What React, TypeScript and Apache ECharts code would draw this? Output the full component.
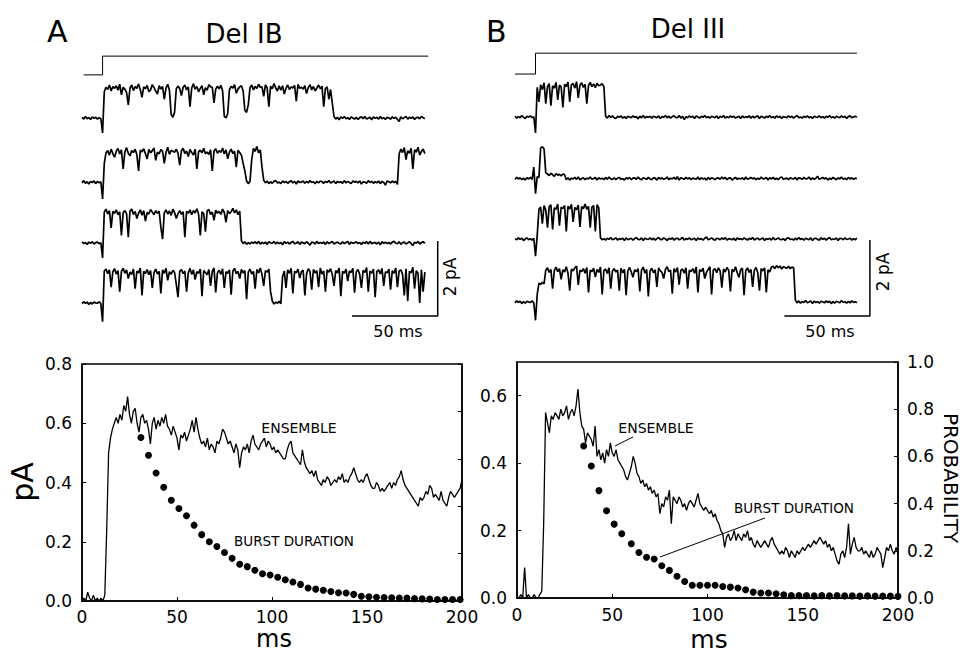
import React, { useEffect, useRef } from "react";
import * as echarts from "echarts";

const FONT = "'DejaVu Sans', 'Liberation Sans', sans-serif";

// ---------- Top panels: single-channel records (current in 0.01 pA, one sample per ms, 0..200 ms) ----------
const delIB_trace1 = [
  2,-3,4,-2,1,-4,3,-1,2,-3,1,-2,-40,70,82,76,88,72,84,79,
  86,74,90,62,82,77,68,35,80,88,73,84,79,91,76,55,83,78,87,70,
  75,89,81,72,64,86,77,84,50,80,90,74,10,2,15,78,85,79,60,82,
  88,75,83,30,80,91,77,84,70,79,86,62,81,74,89,83,82,40,77,85,
  78,87,73,5,0,12,76,84,80,89,66,77,83,86,72,20,15,35,81,88,
  75,84,79,90,82,83,58,88,81,30,85,78,92,80,72,86,74,86,64,79,
  88,76,83,80,87,45,90,79,82,77,86,65,81,89,75,84,72,80,88,78,
  85,30,79,83,50,76,40,4,-3,2,-5,3,-1,4,-2,1,-4,3,0,-3,
  2,-4,1,3,-2,4,-3,0,2,-5,3,-1,2,-3,4,-2,1,-4,2,0,
  -3,3,-1,2,-4,-9,3,-2,1,4,-3,2,-1,3,-4,1,2,-2,4,1,
  -2,
];
const delIB_trace2 = [
  -2,4,-3,1,-5,2,-1,3,-4,2,-2,1,-45,50,78,84,72,88,76,66,
  83,90,75,86,35,80,92,77,70,84,79,88,73,30,85,81,89,76,62,87,
  78,84,91,58,80,75,87,82,50,79,93,74,85,82,80,88,77,45,84,90,
  76,83,68,87,79,72,88,35,81,85,78,90,76,80,74,86,30,83,89,77,
  84,79,91,75,86,62,80,88,76,83,40,85,79,72,50,30,3,-4,2,60,
  90,82,95,78,86,40,5,-2,3,-4,1,-3,2,4,-2,0,-4,3,-1,2,
  -3,1,4,-2,2,-5,3,-1,0,3,-3,2,-2,4,-1,1,-4,2,-2,3,
  1,-3,2,-1,4,-2,0,3,-4,2,-1,1,-3,4,-2,2,-1,-4,3,0,
  2,-2,3,-5,1,0,-3,4,-1,2,-3,1,-2,3,-4,2,-1,-8,3,1,
  -2,3,-1,2,-6,75,88,79,92,60,84,77,90,35,86,80,93,72,82,88,
  76,
];
const delIB_trace3 = [
  3,-2,1,-4,2,-1,3,-3,1,2,-2,0,-40,82,90,77,86,40,84,79,
  88,75,83,20,80,86,78,15,85,90,76,84,65,79,88,74,86,58,81,77,
  89,82,75,86,79,84,42,10,80,88,77,85,73,90,81,65,78,86,76,83,
  15,84,79,88,75,86,80,91,77,20,83,78,30,85,89,76,82,60,87,79,
  84,76,90,81,55,86,78,83,92,80,88,75,85,5,-2,3,-4,1,-3,2,
  -1,3,-2,4,-3,1,-2,2,-4,3,0,-1,4,-3,2,-2,1,-5,3,-1,
  2,-3,1,4,-2,-1,3,-4,2,0,-2,3,-1,-6,2,1,-3,4,-2,1,
  -1,2,-4,3,-2,1,4,-3,0,2,-1,-3,3,-2,1,4,-4,2,-1,0,
  3,-2,1,-4,2,-1,3,-3,4,-2,0,1,-3,2,-5,3,-1,2,-2,1,
  -3,2,4,-1,-2,3,-4,1,2,-3,0,3,-2,-7,2,-1,4,-3,1,3,
  -1,
];
const delIB_trace4 = [
  -2,3,-1,2,-4,1,-3,2,0,-1,3,-2,-50,85,90,78,88,42,83,91,
  77,86,30,84,92,79,88,65,82,76,90,38,85,80,93,20,84,78,89,75,
  86,40,81,90,77,84,25,88,79,92,60,83,76,87,81,50,15,84,89,78,
  85,30,80,92,76,88,62,83,79,90,18,86,81,75,89,45,84,93,28,80,
  87,76,91,40,83,79,88,22,85,92,78,84,65,89,80,86,10,82,90,77,
  84,38,89,80,93,76,45,86,82,90,30,5,-3,2,-1,4,-2,70,85,40,
  88,79,92,25,84,80,90,66,83,87,20,78,91,84,35,89,80,86,42,93,
  77,85,30,88,82,91,76,45,86,80,93,18,84,79,90,58,85,81,92,27,
  83,89,76,40,87,81,94,30,85,79,90,15,84,88,77,92,45,83,80,90,
  35,86,79,93,42,85,88,76,20,91,5,84,80,95,38,86,79,0,88,30,
  82,
];
const delIII_trace1 = [
  2,-3,1,-2,4,-1,-4,2,0,3,-2,1,-42,78,40,85,72,90,35,80,
  88,30,82,76,91,45,84,79,25,86,80,92,40,85,88,76,93,50,84,90,
  78,86,35,83,91,80,87,77,89,82,84,88,80,2,-3,4,-1,3,-2,-4,
  2,-1,3,-3,1,-4,2,0,-2,3,-1,1,-5,2,-2,4,-3,1,-1,2,
  -3,2,0,-2,3,-4,1,-1,4,-2,2,-3,1,3,-1,-2,4,-3,2,-7,
  1,-2,3,-1,2,-4,3,0,-3,2,-1,4,-2,1,-3,2,0,-2,3,-4,
  2,-1,4,-3,1,-2,3,-1,2,-3,0,2,-4,3,-2,1,-1,3,-3,2,
  -2,1,3,-4,2,0,-3,2,-1,4,-2,1,-3,3,-1,2,-4,1,0,-2,
  3,-1,2,-3,1,4,-2,0,-3,2,-1,3,-2,1,-4,2,0,-1,3,-2,
  1,-3,2,-1,4,-2,1,-3,2,0,-2,3,-1,2,-4,1,3,-2,0,2,
  -1,
];
const delIII_trace2 = [
  -2,3,-1,2,-3,1,-4,2,-1,3,-2,30,-40,5,3,80,84,78,15,12,
  8,14,10,6,13,9,11,7,12,10,-3,2,-4,1,-1,3,-2,4,-3,0,
  2,-3,1,-1,4,-2,0,3,-4,2,-1,1,-3,3,-2,4,-1,-2,2,-3,
  1,3,-2,0,-4,2,-1,3,-3,1,2,-2,4,-1,-3,2,0,-2,3,-1,
  -3,2,1,-4,3,-1,2,-2,0,4,-3,1,-1,3,-2,5,-4,2,0,-2,
  3,-1,2,-3,1,0,-2,4,-3,2,-1,1,-4,3,-2,2,0,-3,1,2,
  -2,4,-1,3,-3,1,2,-4,0,3,-2,1,-1,2,-3,4,-2,0,3,-1,
  2,-3,1,-2,4,-1,0,3,-4,2,-1,3,-2,1,-3,2,4,-2,0,1,
  -3,2,0,-1,3,-4,2,1,-2,3,-1,0,4,-3,2,-2,1,6,-2,0,
  3,-1,2,-4,1,-2,3,0,-3,2,-1,4,-2,1,-3,3,-1,2,-2,1,
  0,
];
const delIII_trace3 = [
  1,-2,3,-1,2,-4,0,3,-2,1,-3,2,-45,10,78,84,40,88,76,30,
  85,90,25,82,78,92,35,84,80,88,20,86,79,91,45,83,77,89,32,85,
  80,92,78,86,30,84,88,20,90,82,3,-2,1,-3,2,-1,4,-2,0,3,
  -3,1,-1,2,-4,3,-2,0,2,-3,1,4,-1,-2,3,-4,2,0,-1,3,
  -2,2,-3,1,4,-1,-2,3,0,-4,2,-1,3,-3,1,2,-2,0,4,-3,
  1,-1,3,-2,0,2,-4,3,-1,1,-3,2,5,-2,0,3,-1,-3,2,1,
  -2,3,-1,4,-3,1,0,-2,2,-4,3,-1,1,-2,3,0,-3,2,-1,4,
  -3,1,2,-2,0,3,-4,1,-1,2,-3,4,-2,0,3,-1,-2,1,-4,2,
  3,-1,0,-3,2,-2,4,-1,1,-3,2,0,-2,3,-4,1,2,-1,-3,3,
  -1,2,-3,1,4,-2,0,-1,3,-4,2,1,-2,3,-1,0,2,-3,1,-2,
  2,
];
const delIII_trace4 = [
  -2,3,-1,2,-4,1,-3,2,0,-1,3,-2,-48,20,50,46,52,48,84,90,
  78,86,35,83,92,80,88,60,85,79,93,76,30,87,82,90,95,45,84,80,
  88,76,91,25,84,80,89,66,86,78,92,20,83,87,75,90,35,82,88,79,
  84,30,89,77,86,18,82,91,79,65,85,80,88,28,84,92,76,86,15,81,
  89,77,85,40,90,82,78,62,86,93,80,84,22,88,79,91,46,83,87,76,
  90,35,84,80,88,76,92,25,85,81,89,62,78,86,93,20,84,88,77,90,
  82,38,87,79,91,84,28,86,80,93,77,65,85,89,18,83,90,78,86,40,
  84,91,77,30,88,82,90,25,85,79,92,94,88,96,90,95,87,93,91,89,
  94,88,92,90,5,-2,3,-3,1,-1,4,-2,0,3,-4,2,-1,1,-3,2,
  0,-2,3,-1,2,-4,1,-3,2,0,-2,4,-1,1,-3,2,-2,3,-1,1,
  -2,
];

// Voltage protocol (ms) and level (0 = holding, 1 = test pulse)
const stepTimesA = [1, 12, 12, 202];
const stepTimesB = [0, 12, 12, 200];
const stepLevels = [0, 0, 1, 1];

// Scale bars
const scaleBarMs = 50;
const scaleBarPA = 2;

// ---------- Bottom panels ----------
// Ensemble averages (pA x 100), one sample per ms, 0..200 ms
const delIB_ensemble = [
  0,1,0,3,1,0,2,0,1,0,1,0,2,24,50,55,58,60,62,60,
  63,61,66,64,69,63,60,64,65,60,57,62,63,60,61,58,53,60,62,58,
  61,59,62,60,63,59,58,56,59,57,55,51,56,55,57,54,56,58,61,57,
  62,58,55,53,54,52,55,51,53,52,50,54,53,55,58,57,55,53,54,52,
  50,53,51,45,50,52,51,53,50,54,56,53,52,51,53,54,55,52,54,53,
  51,52,50,51,50,49,48,48,51,53,54,50,49,48,47,46,51,47,45,44,
  43,44,42,44,41,40,39,41,40,42,41,39,40,41,40,42,41,43,40,41,
  40,42,43,45,43,41,40,41,40,42,43,41,39,38,38,40,39,37,38,37,
  38,39,40,38,40,39,41,42,44,41,39,38,37,36,35,34,33,32,35,34,
  35,37,36,39,38,35,36,35,34,37,34,33,32,35,37,36,35,36,37,38,
  41,
];
const delIII_ensemble = [
  0,0,1,0,9,0,1,0,0,1,0,0,1,2,22,55,52,49,54,53,
  55,54,53,56,54,55,57,53,55,56,54,57,62,55,51,50,46,49,48,47,
  45,51,42,44,41,43,40,44,42,46,43,42,44,41,40,39,38,36,35,37,
  39,42,40,37,36,34,35,33,34,32,33,31,32,30,31,25,28,27,30,29,
  32,22,30,29,28,30,29,27,28,26,28,29,28,27,29,31,28,27,26,27,
  26,25,26,24,25,23,22,20,19,15,18,19,17,18,20,17,19,18,17,19,
  18,20,17,18,16,15,17,16,15,16,17,16,15,17,18,16,15,14,13,14,
  13,15,14,12,14,13,12,14,13,14,15,14,15,16,15,16,17,16,17,18,
  17,16,17,15,16,14,15,13,11,10,13,14,12,15,22,13,16,18,15,14,
  14,15,13,14,13,12,14,12,13,15,14,13,9,12,15,14,16,14,13,15,
  13,
];

// Burst duration distributions (probability)
const delIB_burstTimes = [31,35,39,43,47,51,55,59,63,67,71,75,79,83,87,91,95,99,103,107,111,115,119,123,127,131,135,139,143,147,151,155,159,163,167,171,175,179,183,187,191,195,199];
const delIB_burstProb = [0.69,0.615,0.54,0.48,0.425,0.39,0.36,0.32,0.28,0.25,0.23,0.205,0.18,0.155,0.145,0.13,0.115,0.11,0.1,0.09,0.08,0.07,0.055,0.05,0.045,0.04,0.035,0.034,0.028,0.02,0.018,0.016,0.015,0.014,0.012,0.012,0.01,0.009,0.008,0.006,0.006,0.006,0.006];
const delIII_burstTimes = [35,39,43,47,51,55,60,64,68,72,76,80,84,88,92,96,100,104,108,112,116,120,124,128,132,136,140,144,148,152,156,160,164,168,172,176,180,184,188,192,196,200];
const delIII_burstProb = [0.644,0.559,0.455,0.37,0.313,0.272,0.23,0.193,0.173,0.165,0.137,0.117,0.092,0.07,0.054,0.054,0.054,0.054,0.049,0.046,0.042,0.035,0.025,0.021,0.021,0.018,0.014,0.01,0.01,0.01,0.009,0.01,0.009,0.01,0.009,0.009,0.008,0.009,0.008,0.008,0.008,0.007];

// ---------- layout constants ----------
const OFFSETS_A = [0, -1.71, -3.33, -4.93];
const OFFSETS_B = [0, -1.62, -3.21, -4.87];
const STEP_A = { low: 1.15, high: 1.65 };
const STEP_B = { low: 1.13, high: 1.68 };

const BLACK = "#000";

function traceSeries(vals: number[], offset: number, grid: number) {
  return {
    type: "line",
    xAxisIndex: grid,
    yAxisIndex: grid,
    data: vals.map((v, i) => [i, offset + v / 100]),
    symbol: "none",
    silent: true,
    lineStyle: { color: BLACK, width: 1.7 },
  };
}

function plainLine(data: number[][], grid: number, width: number) {
  return {
    type: "line",
    xAxisIndex: grid,
    yAxisIndex: grid,
    data,
    symbol: "none",
    silent: true,
    lineStyle: { color: BLACK, width },
  };
}

const axisCommon = {
  axisLine: { show: true, lineStyle: { color: BLACK, width: 1.5 } },
  axisTick: { show: true, inside: true, length: 4, lineStyle: { color: BLACK, width: 1 } },
  splitLine: { show: false },
};
const labelStyle = { color: BLACK, fontFamily: FONT, fontSize: 17 };

function txt(text: string, x: number, y: number, size: number, extra: any = {}) {
  return {
    type: "text",
    x,
    y,
    silent: true,
    ...extra,
    style: {
      text,
      fill: BLACK,
      font: `${size}px ${FONT}`,
      align: extra.align || "center",
      verticalAlign: "middle",
    },
  };
}

export default function App() {
  const ref = useRef<HTMLDivElement>(null);

  useEffect(() => {
    if (!ref.current) return;
    const chart = echarts.init(ref.current, undefined, { renderer: "svg" });

    const stepA = stepTimesA.map((t, i) => [t, stepLevels[i] ? STEP_A.high : STEP_A.low]);
    const stepB = stepTimesB.map((t, i) => [t, stepLevels[i] ? STEP_B.high : STEP_B.low]);

    const barA = [
      [207.5 - scaleBarMs, -5.28],
      [207.5, -5.28],
      [207.5, -5.28 + scaleBarPA],
    ];
    const barB = [
      [207.6 - scaleBarMs, -5.24],
      [207.6, -5.24],
      [207.6, -5.24 + scaleBarPA],
    ];

    const tracesA = [delIB_trace1, delIB_trace2, delIB_trace3, delIB_trace4];
    const tracesB = [delIII_trace1, delIII_trace2, delIII_trace3, delIII_trace4];

    const option: any = {
      animation: false,
      backgroundColor: "#fff",
      grid: [
        { left: 82, top: 43, width: 360, height: 300 },
        { left: 515, top: 41, width: 359, height: 304 },
        { left: 82, top: 364, width: 380, height: 237, show: true, borderColor: BLACK, borderWidth: 1.5 },
        { left: 517, top: 362, width: 381, height: 236, show: true, borderColor: BLACK, borderWidth: 1.5 },
      ],
      xAxis: [
        { gridIndex: 0, type: "value", min: 0, max: 210, show: false },
        { gridIndex: 1, type: "value", min: 0, max: 210, show: false },
        {
          gridIndex: 2, type: "value", min: 0, max: 200, interval: 50, ...axisCommon,
          axisLabel: { ...labelStyle, margin: 7 },
        },
        {
          gridIndex: 3, type: "value", min: 0, max: 200, interval: 50, ...axisCommon,
          axisLabel: { ...labelStyle, margin: 8 },
        },
      ],
      yAxis: [
        { gridIndex: 0, type: "value", min: -6, max: 2, show: false },
        { gridIndex: 1, type: "value", min: -6, max: 2, show: false },
        {
          gridIndex: 2, type: "value", min: 0, max: 0.8, interval: 0.2, position: "left", ...axisCommon,
          axisLabel: { ...labelStyle, margin: 10, formatter: (v: number) => v.toFixed(1) },
        },
        {
          gridIndex: 2, type: "value", min: 0, max: 1, interval: 0.2, position: "right", ...axisCommon,
          axisLabel: { show: false },
        },
        {
          gridIndex: 3, type: "value", min: 0, max: 0.7, interval: 0.2, position: "left", ...axisCommon,
          axisLabel: { ...labelStyle, margin: 10, showMaxLabel: false, formatter: (v: number) => v.toFixed(1) },
        },
        {
          gridIndex: 3, type: "value", min: 0, max: 1, interval: 0.2, position: "right", ...axisCommon,
          axisLabel: { ...labelStyle, margin: 9, formatter: (v: number) => v.toFixed(1) },
        },
      ],
      series: [
        ...tracesA.map((tr, i) => traceSeries(tr, OFFSETS_A[i], 0)),
        plainLine(stepA, 0, 1),
        plainLine(barA, 0, 1.5),
        ...tracesB.map((tr, i) => traceSeries(tr, OFFSETS_B[i], 1)),
        plainLine(stepB, 1, 1),
        plainLine(barB, 1, 1.5),
        {
          type: "line", xAxisIndex: 2, yAxisIndex: 2, symbol: "none", silent: true,
          data: delIB_ensemble.map((v, i) => [i, v / 100]),
          lineStyle: { color: BLACK, width: 1.3 },
        },
        {
          type: "scatter", xAxisIndex: 2, yAxisIndex: 3, symbolSize: 7, silent: true,
          data: delIB_burstTimes.map((t, i) => [t, delIB_burstProb[i]]),
          itemStyle: { color: BLACK, opacity: 1 },
        },
        {
          type: "line", xAxisIndex: 3, yAxisIndex: 4, symbol: "none", silent: true,
          data: delIII_ensemble.map((v, i) => [i, v / 100]),
          lineStyle: { color: BLACK, width: 1.3 },
        },
        {
          type: "scatter", xAxisIndex: 3, yAxisIndex: 5, symbolSize: 7, silent: true,
          data: delIII_burstTimes.map((t, i) => [t, delIII_burstProb[i]]),
          itemStyle: { color: BLACK, opacity: 1 },
        },
      ],
      graphic: [
        txt("A", 47, 31, 30, { align: "left" }),
        txt("Del IB", 244, 34, 26),
        txt("B", 486, 31, 30, { align: "left" }),
        txt("Del III", 688, 29, 26),
        txt("2 pA", 450, 277, 17, { rotation: Math.PI / 2 }),
        txt("50 ms", 398, 331, 16),
        txt("2 pA", 883, 272, 17, { rotation: Math.PI / 2 }),
        txt("50 ms", 830, 331, 16),
        txt("pA", 22, 482, 30, { rotation: Math.PI / 2 }),
        txt("ms", 274, 639, 24),
        txt("ms", 709, 639, 25),
        txt("PROBABILITY", 951, 478, 20, { rotation: -Math.PI / 2 }),
        txt("ENSEMBLE", 299, 428, 14),
        txt("BURST DURATION", 294, 541, 13.5),
        txt("ENSEMBLE", 656, 428, 14),
        txt("BURST DURATION", 794, 508, 13.5),
        {
          type: "line", silent: true,
          shape: { x1: 633, y1: 437, x2: 615, y2: 446 },
          style: { stroke: BLACK, lineWidth: 1 },
        },
        {
          type: "line", silent: true,
          shape: { x1: 765, y1: 518, x2: 660, y2: 557 },
          style: { stroke: BLACK, lineWidth: 1 },
        },
      ],
    };

    chart.setOption(option);
    return () => chart.dispose();
  }, []);

  return (
    <div
      ref={ref}
      style={{ position: "fixed", left: 0, top: 0, width: 968, height: 652, background: "#fff" }}
    />
  );
}
